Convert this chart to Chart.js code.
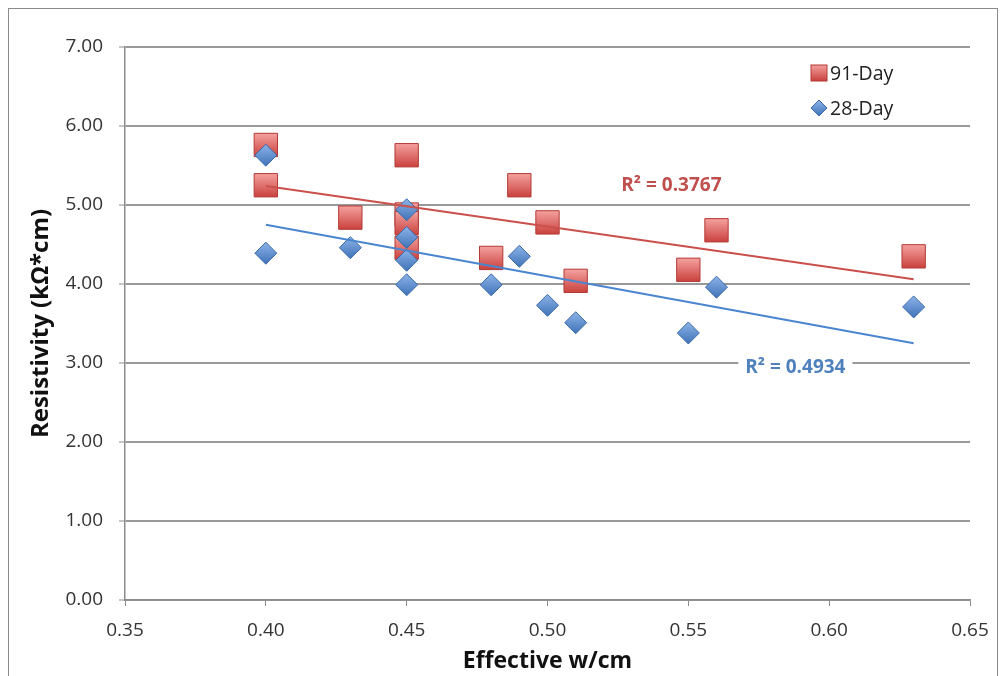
<!DOCTYPE html>
<html>
<head>
<meta charset="utf-8">
<script src="https://cdn.jsdelivr.net/npm/chart.js@4.4.0/dist/chart.umd.min.js"></script>
<style>
  html, body { margin: 0; padding: 0; background: #fff; }
  #wrap { width: 1003px; height: 676px; }
</style>
</head>
<body>
<div id="wrap"><canvas id="resChart" width="1003" height="676"></canvas></div>
<script>
// values
const wc91 = [0.40, 0.40, 0.43, 0.45, 0.45, 0.45, 0.45, 0.48, 0.49, 0.50, 0.51, 0.55, 0.56, 0.63];
const res91 = [5.76, 5.25, 4.84, 5.63, 4.88, 4.77, 4.46, 4.33, 5.25, 4.78, 4.04, 4.18, 4.68, 4.35];

const wc28 = [0.40, 0.40, 0.43, 0.45, 0.45, 0.45, 0.45, 0.48, 0.49, 0.50, 0.51, 0.55, 0.56, 0.63];
const res28 = [5.63, 4.39, 4.46, 4.94, 4.59, 4.30, 3.99, 3.99, 4.35, 3.73, 3.51, 3.38, 3.96, 3.71];

// trendline end points (x from 0.40 to 0.63)
const trendX = [0.40, 0.63];
const trend91 = [5.24, 4.06];
const trend28 = [4.75, 3.25];

const r2Labels = [
    { text: 'R² = 0.3767', x: 0.544, y: 5.24, color: '#c0504d', box: false },
    { text: 'R² = 0.4934', x: 0.588, y: 2.94, color: '#4f81bd', box: true }
];

const xTicks = [0.35, 0.40, 0.45, 0.50, 0.55, 0.60, 0.65];

const pts = (xs, ys) => xs.map((x, i) => ({ x: x, y: ys[i] }));

// gradient per marker, like the office style fill
function markerFill(light, dark, half) {
    return (c) => {
        const chart = c.chart;
        if (!chart.scales || !chart.scales.y || !c.parsed) return dark;
        const py = chart.scales.y.getPixelForValue(c.parsed.y);
        if (!isFinite(py)) return dark;
        const g = chart.ctx.createLinearGradient(0, py - half, 0, py + half);
        g.addColorStop(0, light);
        g.addColorStop(1, dark);
        return g;
    };
}

const fontMain = '"Open Sans", Lato, sans-serif';

const framePlugin = {
    id: 'frame',
    afterDraw(chart) {
        const c = chart.ctx;
        c.save();
        c.strokeStyle = '#8a8a8a';
        c.lineWidth = 1;
        c.strokeRect(8.5, 8.5, 989, 700);
        c.restore();
    }
};

const r2Plugin = {
    id: 'r2',
    afterDatasetsDraw(chart) {
        const c = chart.ctx;
        const xs = chart.scales.x, ys = chart.scales.y;
        c.save();
        c.font = 'bold 19px ' + fontMain;
        c.textAlign = 'center';
        c.textBaseline = 'middle';
        r2Labels.forEach(l => {
            const px = xs.getPixelForValue(l.x);
            const py = ys.getPixelForValue(l.y);
            if (l.box) {
                const w = c.measureText(l.text).width + 14;
                c.fillStyle = '#fff';
                c.fillRect(px - w / 2, py - 12, w, 24);
            }
            c.fillStyle = l.color;
            c.fillText(l.text, px, py);
        });
        c.restore();
    }
};

const legendPlugin = {
    id: 'innerLegend',
    afterDraw(chart) {
        const c = chart.ctx;
        const items = ['91-Day', '28-Day'];
        c.save();
        c.font = '19.5px ' + fontMain;
        c.textBaseline = 'middle';
        items.forEach((label, i) => {
            const x = 819, y = 73 + i * 35;
            const g = c.createLinearGradient(0, y - 8, 0, y + 8);
            if (i === 0) {
                g.addColorStop(0, '#f3a09e');
                g.addColorStop(1, '#c9403c');
                c.fillStyle = g;
                c.fillRect(x - 8, y - 8, 16, 16);
                c.strokeStyle = '#b23a36';
                c.lineWidth = 1;
                c.strokeRect(x - 8, y - 8, 16, 16);
            } else {
                g.addColorStop(0, '#8db3e8');
                g.addColorStop(1, '#3f73b8');
                c.fillStyle = g;
                c.beginPath();
                c.moveTo(x, y - 8); c.lineTo(x + 8, y); c.lineTo(x, y + 8); c.lineTo(x - 8, y);
                c.closePath();
                c.fill();
                c.strokeStyle = '#3a6aa8';
                c.lineWidth = 1;
                c.stroke();
            }
            c.fillStyle = '#222';
            c.fillText(label, x + 11, y + 1);
        });
        c.restore();
    }
};

const ctx = document.getElementById('resChart').getContext('2d');

const resChart = new Chart(ctx, {
    type: 'scatter',
    data: {
        datasets: [{
            label: 'trend 91',
            data: pts(trendX, trend91),
            showLine: true,
            borderColor: '#c9504c',
            borderWidth: 2,
            pointRadius: 0
        }, {
            label: 'trend 28',
            data: pts(trendX, trend28),
            showLine: true,
            borderColor: '#4a86d0',
            borderWidth: 2,
            pointRadius: 0
        }, {
            label: '28-Day',
            data: pts(wc28, res28),
            pointStyle: 'rectRot',
            pointRadius: 11,
            pointHoverRadius: 11,
            backgroundColor: markerFill('#8db3e8', '#3f73b8', 11),
            borderColor: '#3a6aa8',
            borderWidth: 1
        }, {
            label: '91-Day',
            data: pts(wc91, res91),
            pointStyle: 'rect',
            pointRadius: 16.5,
            pointHoverRadius: 16.5,
            backgroundColor: markerFill('#f5a3a1', '#c9403c', 12),
            borderColor: '#b23a36',
            borderWidth: 1
        }]
    },
    options: {
        responsive: false,
        animation: false,
        layout: { padding: { left: 0, right: 33, top: 47, bottom: 0 } },
        scales: {
            x: {
                type: 'linear',
                min: 0.35,
                max: 0.65,
                afterFit: (s) => { s.height = 76; },
                afterBuildTicks: (s) => { s.ticks = xTicks.map(v => ({ value: v })); },
                ticks: {
                    color: '#333',
                    font: { family: fontMain, size: 19 },
                    padding: 13,
                    callback: (v) => Number(v).toFixed(2)
                },
                grid: {
                    drawOnChartArea: false,
                    drawTicks: true,
                    tickLength: 6,
                    color: '#8c8c8c'
                },
                border: { color: '#8c8c8c', width: 1.5 },
                title: {
                    display: true,
                    text: 'Effective w/cm',
                    color: '#111',
                    font: { family: fontMain, size: 23, weight: 'bold' },
                    padding: { top: 0, bottom: 1 }
                }
            },
            y: {
                min: 0,
                max: 7,
                afterFit: (s) => { s.width = 125; },
                ticks: {
                    stepSize: 1,
                    color: '#333',
                    font: { family: fontMain, size: 19 },
                    padding: 16,
                    callback: (v) => Number(v).toFixed(2)
                },
                grid: {
                    color: '#999',
                    lineWidth: 2,
                    tickLength: 6,
                    tickColor: '#8c8c8c',
                    tickWidth: 1
                },
                border: { color: '#8c8c8c', width: 1.5 },
                title: {
                    display: true,
                    text: 'Resistivity (kΩ*cm)',
                    color: '#111',
                    font: { family: fontMain, size: 24, weight: 'bold' },
                    padding: { top: 27, bottom: 0 }
                }
            }
        },
        plugins: {
            legend: { display: false },
            tooltip: { enabled: false }
        }
    },
    plugins: [framePlugin, r2Plugin, legendPlugin]
});
</script>
</body>
</html>
